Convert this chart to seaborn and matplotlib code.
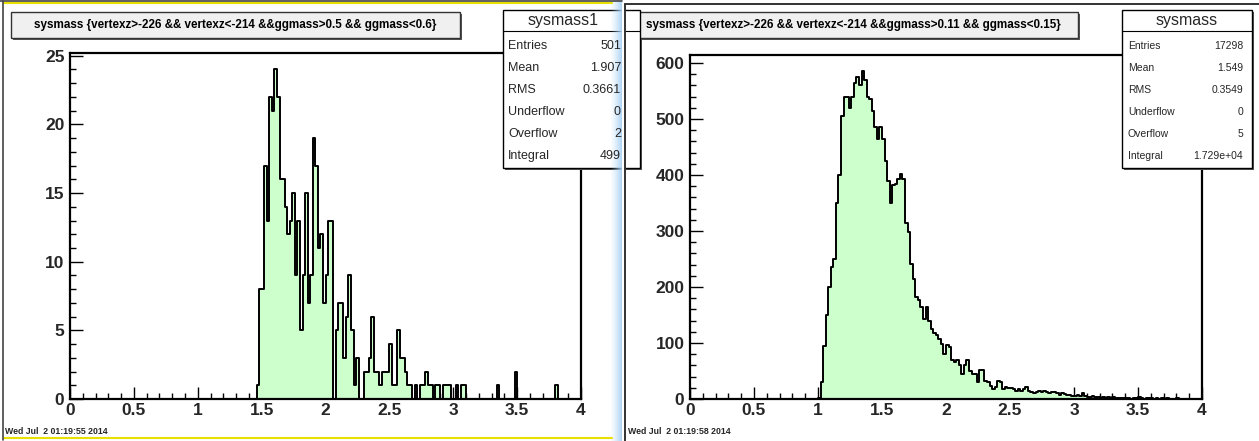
import numpy as np
import pandas as pd
import matplotlib
matplotlib.use("Agg")
import matplotlib.pyplot as plt
import seaborn as sns
from matplotlib.patches import Rectangle
from matplotlib.lines import Line2D
from matplotlib.ticker import FixedLocator, MultipleLocator, FixedFormatter

sns.set_theme(style="white")
plt.rcParams['font.family'] = ['Liberation Sans', 'DejaVu Sans']

# ---------------- data ----------------
x_min, x_max, n_bins = 0.0, 4.0, 200

left_title = "sysmass {vertexz>-226 && vertexz<-214 &&ggmass>0.5 && ggmass<0.6}"
left_first_edge = 1.40
left_counts = [
    0, 0, 0, 1, 8, 8, 17, 13, 22, 21,      # 1.40 - 1.58
    24, 22, 16, 16, 14, 12, 13, 15, 9, 13,  # 1.60 - 1.78
    5, 9, 15, 7, 9, 19, 17, 11, 12, 7,      # 1.80 - 1.98
    9, 13, 13, 0, 5, 7, 7, 3, 6, 9,         # 2.00 - 2.18
    5, 1, 3, 0, 0, 2, 2, 3, 6, 2,           # 2.20 - 2.38
    2, 1, 2, 2, 2, 4, 1, 1, 5, 3,           # 2.40 - 2.58
    3, 2, 1, 1, 0, 1, 0, 1, 1, 2,           # 2.60 - 2.78
    1, 1, 0, 1, 1, 0, 1, 1, 1, 0,           # 2.80 - 2.98
    0, 1, 0, 1, 1, 0, 0, 0, 0, 0,           # 3.00 - 3.18
    0, 0, 0, 0, 0, 0, 0, 1, 0, 0,           # 3.20 - 3.38
    0, 0, 0, 0, 2, 0, 0, 0, 0, 0,           # 3.40 - 3.58
    0, 0, 0, 0, 0, 0, 0, 0, 0, 0,           # 3.60 - 3.78
    1, 0, 0, 0, 0, 0, 0, 0, 0, 0,           # 3.80 - 3.98
]
left_stats_name = "sysmass1"
left_stats_labels = ["Entries", "Mean", "RMS", "Underflow", "Overflow", "Integral"]
left_stats_values = ["501", "1.907", "0.3661", "0", "2", "499"]
left_date = "Wed Jul  2 01:19:55 2014"
left_y_ticks = [0, 5, 10, 15, 20, 25]

right_title = "sysmass {vertexz>-226 && vertexz<-214 &&ggmass>0.11 && ggmass<0.15}"
right_first_edge = 1.00
right_counts = [
    2, 30, 95, 150, 200, 235, 250, 350, 400, 505,       # 1.00 - 1.18
    540, 540, 520, 540, 565, 575, 560, 585, 570, 540,   # 1.20 - 1.38
    535, 515, 485, 465, 485, 465, 425, 390, 350, 382,   # 1.40 - 1.58
    384, 393, 401, 393, 315, 298, 241, 215, 182, 176,   # 1.60 - 1.78
    164, 143, 164, 140, 125, 118, 114, 108, 99, 81,     # 1.80 - 1.98
    96, 92, 69, 66, 69, 60, 45, 60, 69, 50,             # 2.00 - 2.18
    45, 45, 30, 51, 52, 33, 30, 24, 18, 21,             # 2.20 - 2.38
    33, 30, 18, 21, 20, 19, 17, 14, 18, 15,             # 2.40 - 2.58
    18, 21, 15, 12, 10, 12, 14, 13, 14, 12,             # 2.60 - 2.78
    10, 12, 12, 10, 8, 10, 9, 7, 8, 6,                  # 2.80 - 2.98
    6, 7, 5, 10, 5, 4, 3, 5, 3, 4,                      # 3.00 - 3.18
    2, 3, 2, 3, 2, 4, 2, 1, 2, 1,                       # 3.20 - 3.38
    2, 1, 0, 2, 1, 3, 1, 0, 1, 1,                       # 3.40 - 3.58
    2, 0, 1, 0, 1, 0, 1, 0, 0, 0,                       # 3.60 - 3.78
    1, 0, 0, 0, 0, 0, 0, 0, 0, 0,                       # 3.80 - 3.98
]
right_stats_name = "sysmass"
right_stats_labels = ["Entries", "Mean", "RMS", "Underflow", "Overflow", "Integral"]
right_stats_values = ["17298", "1.549", "0.3549", "0", "5", "1.729e+04"]
right_date = "Wed Jul  2 01:19:58 2014"
right_y_ticks = [0, 100, 200, 300, 400, 500, 600]

x_ticks = [0, 0.5, 1, 1.5, 2, 2.5, 3, 3.5, 4]
x_tick_labels = ["0", "0.5", "1", "1.5", "2", "2.5", "3", "3.5", "4"]

# ---------------- layout helpers ----------------
W, H = 1259, 441
fig = plt.figure(figsize=(W / 100, H / 100), dpi=100)
fig.patch.set_facecolor("white")


def fx(x):
    return x / W


def fy(y):
    return 1 - y / H


def rect_px(x0, y0, x1, y1):
    return [fx(x0), fy(y1), (x1 - x0) / W, (y1 - y0) / H]


FILL = "#ccffcc"
edges = np.linspace(x_min, x_max, n_bins + 1)
centers = 0.5 * (edges[:-1] + edges[1:])


def full_counts(first_edge, counts):
    arr = np.zeros(n_bins)
    i0 = int(round((first_edge - x_min) / (edges[1] - edges[0])))
    arr[i0:i0 + len(counts)] = counts
    return arr


def draw_hist(box, first_edge, counts, y_ticks, y_minor):
    ax = fig.add_axes(rect_px(*box))
    full = full_counts(first_edge, counts)
    df = pd.DataFrame({"x": centers, "w": full})
    sns.histplot(data=df, x="x", weights="w", bins=[float(e) for e in edges],
                 element="step", fill=True, color=FILL, alpha=1,
                 edgecolor="black", linewidth=1.4, ax=ax)
    ax.set_xlim(x_min, x_max)
    ax.set_ylim(0, 1.05 * full.max())
    ax.set_xlabel("")
    ax.set_ylabel("")
    ax.set_facecolor("white")
    for s in ax.spines.values():
        s.set_color("black")
        s.set_linewidth(1.6)
        s.set_visible(True)
    ax.xaxis.set_major_locator(FixedLocator(x_ticks))
    ax.xaxis.set_major_formatter(FixedFormatter(x_tick_labels))
    ax.xaxis.set_minor_locator(MultipleLocator(0.1))
    ax.yaxis.set_major_locator(FixedLocator(y_ticks))
    ax.yaxis.set_major_formatter(FixedFormatter([str(t) for t in y_ticks]))
    ax.yaxis.set_minor_locator(MultipleLocator(y_minor))
    ax.tick_params(axis="both", which="both", direction="in", top=False,
                   right=False, bottom=True, left=True, color="black")
    ax.tick_params(axis="both", which="major", length=9, width=1.0,
                   labelsize=12.5)
    ax.tick_params(axis="both", which="minor", length=4.5, width=1.0)
    ax.tick_params(axis="x", which="major", pad=3)
    ax.tick_params(axis="y", which="major", pad=4)
    for lab in ax.get_xticklabels() + ax.get_yticklabels():
        lab.set_fontweight("bold")
    return ax


axL = draw_hist((70, 53, 581, 399), left_first_edge, left_counts, left_y_ticks, 1)
axR = draw_hist((690, 55, 1202, 399), right_first_edge, right_counts, right_y_ticks, 20)


# ---------------- decorations (title boxes, stat boxes) ----------------
def box(x0, y0, x1, y1, face, edge="#333333", lw=1.0, shadow=True, z=5):
    if shadow:
        fig.patches.append(Rectangle((fx(x0 + 2), fy(y1 + 2)), (x1 - x0) / W,
                                     (y1 - y0) / H, transform=fig.transFigure,
                                     facecolor="#555555", edgecolor="none",
                                     zorder=z - 1))
    fig.patches.append(Rectangle((fx(x0), fy(y1)), (x1 - x0) / W, (y1 - y0) / H,
                                 transform=fig.transFigure, facecolor=face,
                                 edgecolor=edge, linewidth=lw, zorder=z))


def title_box(x0, y0, x1, y1, text):
    box(x0, y0, x1, y1, "#f0f0f0")
    fig.text(fx((x0 + x1) / 2), fy((y0 + y1) / 2), text, ha="center",
             va="center", fontsize=8.4, fontweight="bold", color="black",
             zorder=10)


def stats_box(x0, y0, x1, y1, name, labels, values, lab_x, val_x, size,
              title_size, title_x):
    box(x0, y0, x1, y1, "white", edge="black", shadow=True)
    fig.lines.append(Line2D([fx(x0), fx(x1)], [fy(31), fy(31)],
                            transform=fig.transFigure, color="black",
                            linewidth=0.8, zorder=8))
    fig.text(fx(title_x), fy(20), name, ha="center",
             va="center", fontsize=title_size, zorder=10)
    rows = [46, 68, 90, 112, 134, 156]
    for yy, lab, val in zip(rows, labels, values):
        fig.text(fx(lab_x), fy(yy), lab, ha="left", va="center",
                 fontsize=size, zorder=10)
        fig.text(fx(val_x), fy(yy), val, ha="right", va="center",
                 fontsize=size, zorder=10)


title_box(11, 12, 460, 38, left_title)
title_box(628, 12, 1078, 38, right_title)

stats_box(503, 10, 640, 168, left_stats_name, left_stats_labels,
          left_stats_values, 508, 621, 9.0, 11.5, 563)
stats_box(1122, 10, 1252, 168, right_stats_name, right_stats_labels,
          right_stats_values, 1128, 1243, 7.5, 11.5, 1187)

fig.text(fx(5), fy(432), left_date, ha="left", va="center", fontsize=6.3,
         fontweight="bold")
fig.text(fx(628), fy(432), right_date, ha="left", va="center", fontsize=6.3,
         fontweight="bold")

# ---------------- canvas borders / window chrome ----------------
# white gap between the two canvases
fig.patches.append(Rectangle((fx(622), 0), 2 / W, 1, transform=fig.transFigure,
                             facecolor="white", edgecolor="none", zorder=8))
# translucent blue gradient on the right edge of the left canvas
band = fig.add_axes(rect_px(610, 0, 622, 441))
rgba = np.zeros((1, 64, 4))
rgba[..., 0] = 0.66
rgba[..., 1] = 0.82
rgba[..., 2] = 0.96
rgba[..., 3] = np.linspace(0.0, 0.95, 64) ** 1.3
band.imshow(rgba, aspect="auto", extent=(0, 1, 0, 1))
band.set_axis_off()
band.set_zorder(9)

fig.lines.append(Line2D([fx(4), fx(612)], [fy(2.5), fy(2.5)], transform=fig.transFigure,
                        color="#e8e000", linewidth=1.5, zorder=15))
fig.lines.append(Line2D([fx(4), fx(612)], [fy(437.5), fy(437.5)], transform=fig.transFigure,
                        color="#e8e000", linewidth=1.5, zorder=15))
fig.lines.append(Line2D([fx(3), fx(3)], [fy(1), fy(440)], transform=fig.transFigure,
                        color="#444444", linewidth=1.2, zorder=15))
fig.lines.append(Line2D([fx(0), fx(622)], [fy(0.6), fy(0.6)], transform=fig.transFigure,
                        color="#444444", linewidth=1.2, zorder=15))
fig.lines.append(Line2D([fx(624.5), fx(1259)], [fy(4), fy(4)], transform=fig.transFigure,
                        color="#333333", linewidth=1.4, zorder=15))
fig.lines.append(Line2D([fx(624.5), fx(624.5)], [fy(4), fy(441)], transform=fig.transFigure,
                        color="#333333", linewidth=1.4, zorder=15))

fig.savefig("out.png", dpi=100, facecolor="white")
